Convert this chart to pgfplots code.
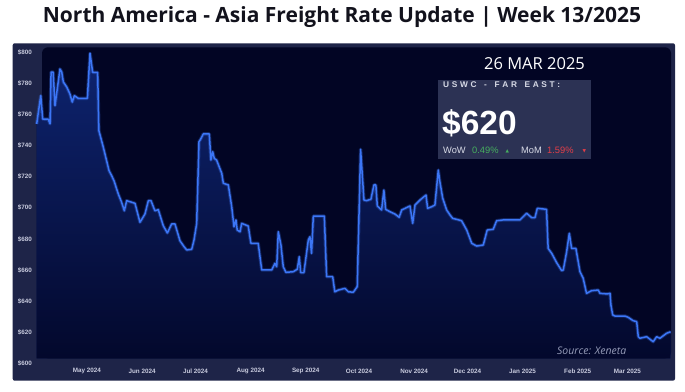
\documentclass[border=0pt]{standalone}
\usepackage{pgfplots}
\pgfplotsset{compat=1.18}
\usepackage{pgfplotstable}
\usepackage{fontspec}
\setmainfont{Liberation Sans}
\newfontfamily\opensans{Open Sans}
\newfontfamily\dejavu{DejaVu Sans}
\definecolor{outerpanel}{RGB}{30,36,72}
\definecolor{innerbg}{RGB}{2,5,36}
\definecolor{filltop}{RGB}{14,36,112}
\definecolor{fillbot}{RGB}{3,8,44}
\definecolor{fillmid}{RGB}{7,18,70}
\definecolor{linecol}{RGB}{60,118,246}
\definecolor{ticklab}{RGB}{200,203,222}
\definecolor{boxcol}{RGB}{44,50,84}
\definecolor{titlecol}{RGB}{18,18,28}
\definecolor{upgreen}{RGB}{70,175,95}
\definecolor{downred}{RGB}{228,62,72}
\definecolor{sourcecol}{RGB}{150,156,185}
\definecolor{boxhead}{RGB}{215,218,230}

\pgfplotstableread{
d v
-28.3 753.9
-26.0 772.1
-24.9 757.1
-21.8 757.0
-20.8 754.0
-20.2 787.3
-19.0 787.3
-18.0 765.7
-15.2 789.3
-14.2 787.3
-13.3 780.9
-11.4 777.7
-9.6 773.2
-8.3 768.0
-7.1 772.1
-4.9 770.4
0.2 770.4
1.7 799.4
3.2 787.1
6.0 787.1
6.7 749.6
9.2 738.9
12.4 723.9
13.9 720.6
15.2 717.4
17.6 708.9
19.5 703.5
21.0 698.1
22.3 704.6
27.0 702.9
29.8 690.7
32.6 696.0
34.5 704.6
36.0 704.6
38.2 698.1
40.1 698.8
42.9 688.5
45.2 683.8
47.6 689.6
49.5 689.6
52.3 678.8
54.6 675.0
56.1 672.9
58.9 673.3
60.2 679.3
61.7 690.0
63.0 742.5
63.9 744.1
65.4 747.5
68.8 747.5
69.7 730.7
70.7 736.1
71.6 731.8
72.9 730.7
75.8 722.2
76.7 715.8
79.5 714.7
81.4 700.7
82.7 687.8
83.8 692.2
84.5 685.7
86.1 684.6
87.0 690.0
90.7 688.3
92.2 677.2
96.3 677.2
98.3 660.0
103.9 660.0
105.7 664.3
106.7 662.1
107.6 684.6
109.1 676.1
110.4 662.1
111.9 658.5
116.0 658.9
118.3 660.5
119.4 668.6
120.2 658.3
122.0 658.3
124.5 679.3
125.4 681.4
126.3 670.7
127.3 694.7
133.5 694.7
134.8 655.7
138.2 655.7
139.4 646.0
141.3 647.1
145.1 648.2
147.0 646.0
149.8 645.7
152.0 649.3
153.9 737.6
155.8 705.0
157.3 704.6
159.7 705.5
161.4 714.7
162.5 714.7
163.3 701.2
165.7 698.6
167.0 711.4
168.0 699.0
170.4 697.5
173.2 696.0
175.6 693.9
177.0 698.6
181.7 701.2
183.2 690.0
184.5 701.8
187.3 705.0
189.5 707.1
190.7 708.2
191.6 699.7
193.9 700.7
195.7 701.8
197.6 724.3
198.5 716.8
200.1 706.1
202.3 698.6
204.2 695.4
205.7 693.2
207.9 692.6
210.7 691.7
213.6 685.7
216.4 677.2
219.2 675.4
222.9 676.1
225.1 685.7
228.5 686.2
230.4 691.7
234.1 692.2
243.5 692.2
247.3 696.5
250.1 693.7
252.0 693.7
253.3 699.7
258.5 699.0
259.4 673.9
261.4 670.7
264.2 664.7
267.0 659.6
267.9 660.0
269.8 671.8
271.3 683.6
272.6 673.9
275.0 673.9
277.3 658.9
279.1 654.7
281.0 645.0
283.8 646.7
287.6 647.1
288.5 645.0
292.6 644.6
294.2 645.0
294.7 637.5
295.7 631.1
297.0 630.4
302.6 630.4
304.4 629.6
307.2 627.4
309.2 626.8
310.1 617.1
311.0 616.1
314.8 617.1
318.5 613.9
320.4 617.1
322.3 616.1
326.0 619.3
328.3 620.3
}\ratedata

\begin{document}
\begin{tikzpicture}[x=1pt,y=1pt]
\fill[white] (0,0) rectangle (685,391);
\node[font=\opensans\bfseries\fontsize{21}{25}\selectfont, text=titlecol, inner sep=0] at (342,374) {North America - Asia Freight Rate Update | Week 13/2025};
\fill[outerpanel, rounded corners=2pt] (12.7,10.3) rectangle (675,347.7);
\fill[innerbg, rounded corners=6pt] (42,32.7) rectangle (671,343.7);
\begin{axis}[
  at={(33.66pt,27.7pt)}, anchor=south west,
  scale only axis, width=640pt, height=311pt,
  xmin=-30, xmax=330, ymin=600, ymax=800,
  axis line style={draw=none},
  major tick length=0pt,
  xtick={0,31,61,92,123,153,184,214,245,276,304},
  xticklabels={May 2024,Jun 2024,Jul 2024,Aug 2024,Sep 2024,Oct 2024,Nov 2024,Dec 2024,Jan 2025,Feb 2025,Mar 2025},
  ytick={600,620,640,660,680,700,720,740,760,780,800},
  yticklabels={\$600,\$620,\$640,\$660,\$680,\$700,\$720,\$740,\$760,\$780,\$800},
  tick label style={font=\bfseries\fontsize{6.3}{7}\selectfont, text=ticklab},
  xticklabel style={anchor=center, yshift=-7.7pt},
  yticklabel style={anchor=east, inner sep=1.5pt},
]
\addplot[fill=fillmid, draw=none, forget plot] table[x=d, y=v] {\ratedata} -- (axis cs:328.3,603.1) -- (axis cs:-28.3,603.1) -- cycle;
\addplot[top color=filltop, bottom color=fillbot, draw=none, forget plot] table[x=d, y=v] {\ratedata} -- (axis cs:328.3,603.1) -- (axis cs:-28.3,603.1) -- cycle;
\addplot[linecol, opacity=0.3, line width=3.4pt, line join=round] table[x=d, y=v] {\ratedata};
\addplot[linecol, line width=1.5pt, line join=round] table[x=d, y=v] {\ratedata};
\end{axis}
\fill[boxcol] (438,232) rectangle (591,311);
\node[anchor=base west, inner sep=0, font=\bfseries\fontsize{8.3}{9}\selectfont, text=boxhead] at (443,303.5) {\makebox[117pt][s]{U\hfil S\hfil W\hfil C\hfil\ \hfil -\hfil\ \hfil F\hfil A\hfil R\hfil\ \hfil E\hfil A\hfil S\hfil T\hfil :}};
\node[anchor=base west, inner sep=0, font=\bfseries\fontsize{33.5}{36}\selectfont, text=white] at (442,256) {\$620};
\node[anchor=base west, inner sep=0, font=\fontsize{9.3}{10}\selectfont, text=boxhead] at (443,237) {WoW};
\node[anchor=base west, inner sep=0, font=\fontsize{9.3}{10}\selectfont, text=upgreen] at (472,237) {0.49\%};
\node[anchor=base west, inner sep=0, font=\dejavu\fontsize{4.5}{5}\selectfont, text=upgreen] at (505.5,238.5) {▲};
\node[anchor=base west, inner sep=0, font=\fontsize{9.3}{10}\selectfont, text=boxhead] at (521,237) {MoM};
\node[anchor=base west, inner sep=0, font=\fontsize{9.3}{10}\selectfont, text=downred] at (547,237) {1.59\%};
\node[anchor=base west, inner sep=0, font=\dejavu\fontsize{4.5}{5}\selectfont, text=downred] at (582.5,238.5) {▼};
\node[anchor=base, inner sep=0, font=\opensans\fontsize{16.5}{18}\selectfont, text=white] at (534.5,321) {26 MAR 2025};
\node[anchor=base west, inner sep=0, font=\opensans\itshape\fontsize{10.5}{12}\selectfont, text=sourcecol] at (557,37) {Source: Xeneta};
\end{tikzpicture}
\end{document}
